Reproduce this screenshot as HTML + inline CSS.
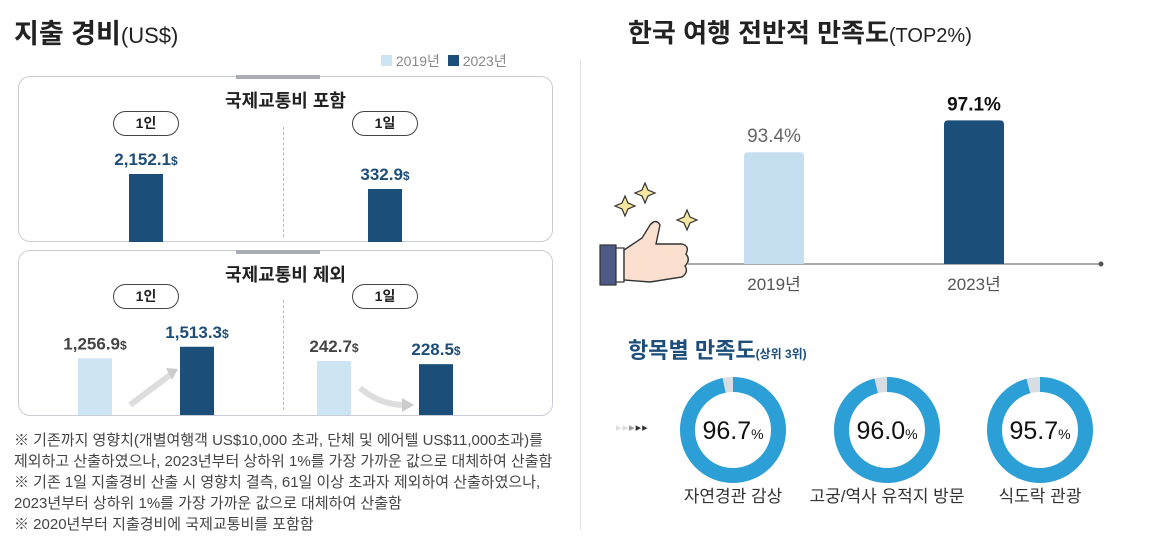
<!DOCTYPE html>
<html><head><meta charset="utf-8">
<style>
body{margin:0;width:1173px;height:547px;background:#fff;position:relative;overflow:hidden;font-family:"Liberation Sans","Noto Sans CJK KR",sans-serif;color:#222}
.abs{position:absolute}
.panel{position:absolute;left:18px;width:535px;height:166px;border:1.5px solid #c9ccd2;border-radius:12px;box-sizing:border-box}
.tab{position:absolute;left:218px;width:84px;height:4px;background:#a9adb6}
.ptitle{position:absolute;width:535px;left:18px;text-align:center;font-weight:bold;font-size:18px;color:#222}
.pill{position:absolute;width:66px;height:25px;border:1.5px solid #444;border-radius:13px;text-align:center;font-weight:bold;font-size:14px;box-sizing:border-box;line-height:22px}
.dash{position:absolute;left:283px;width:0;border-left:1px dashed #bbb}
.note{position:absolute;left:14px;font-size:15px;color:#444;line-height:21px;white-space:nowrap}
</style></head><body>
<div class="abs" style="left:14px;top:12px;font-size:27px;font-weight:bold">지출 경비<span style="font-weight:normal;font-size:22px">(US$)</span></div>
<div class="abs" style="left:381px;top:51px;font-size:14px;color:#888">
 <span><span style="display:inline-block;width:11px;height:11px;background:#cde4f2"></span> 2019년</span>
 <span style="margin-left:4px"><span style="display:inline-block;width:11px;height:11px;background:#1b4f7a"></span> 2023년</span>
</div>
<div class="panel" style="top:76px"></div>
<div class="tab" style="left:236px;top:75px"></div>
<div class="ptitle" style="top:87px">국제교통비 포함</div>
<div class="pill" style="left:113px;top:111px">1인</div>
<div class="pill" style="left:352px;top:111px">1일</div>
<div class="dash" style="top:127px;height:110px"></div>
<div class="panel" style="top:250px"></div>
<div class="tab" style="left:236px;top:250px"></div>
<div class="ptitle" style="top:261px">국제교통비 제외</div>
<div class="pill" style="left:113px;top:284px">1인</div>
<div class="pill" style="left:352px;top:284px">1일</div>
<div class="dash" style="top:300px;height:110px"></div>
<svg class="abs" style="left:0;top:0" width="580" height="420" id="leftsvg">
 <path d="M130 405 L170 375" stroke="#ddd" stroke-width="6" fill="none"/><polygon points="166,368 178,369 172,380" fill="#ccc"/>
 <path d="M360 388 Q380 405 405 405" stroke="#ddd" stroke-width="6" fill="none"/><polygon points="402,398 414,405 402,412" fill="#ccc"/>
</svg>
<div class="note" style="top:430px">※ 기존까지 영향치(개별여행객 US$10,000 초과, 단체 및 에어텔 US$11,000초과)를<br>제외하고 산출하였으나, 2023년부터 상하위 1%를 가장 가까운 값으로 대체하여 산출함<br>※ 기존 1일 지출경비 산출 시 영향치 결측, 61일 이상 초과자 제외하여 산출하였으나,<br>2023년부터 상하위 1%를 가장 가까운 값으로 대체하여 산출함<br>※ 2020년부터 지출경비에 국제교통비를 포함함</div>

<div class="abs" style="left:580px;top:60px;width:1px;height:470px;background:#e2e2e2"></div>
<div class="abs" style="left:628px;top:13px;font-size:26px;font-weight:bold">한국 여행 전반적 만족도<span style="font-weight:normal;font-size:20px">(TOP2%)</span></div>
<svg class="abs" style="left:590px;top:180px" width="110" height="115">
 <g fill="#f5e7a0" stroke="#333" stroke-width="1.2">
  <path d="M55 3 l3 7 7 3 -7 3 -3 7 -3 -7 -7 -3 7 -3z"/><path d="M35 16 l3 7 7 3 -7 3 -3 7 -3 -7 -7 -3 7 -3z"/><path d="M97 30 l3 7 7 3 -7 3 -3 7 -3 -7 -7 -3 7 -3z"/>
 </g>
 <rect x="10" y="65" width="16" height="40" fill="#4d5a86" stroke="#333" stroke-width="1.2"/>
 <rect x="26" y="68" width="8" height="34" fill="#fff" stroke="#333" stroke-width="1.2"/>
 <path d="M34 70 L52 58 L60 45 Q66 38 70 45 L66 64 L92 64 Q100 66 96 74 Q101 80 95 86 Q99 92 92 97 L60 102 L34 100Z" fill="#fbe0d0" stroke="#333" stroke-width="1.4"/>
</svg>
<svg class="abs" style="left:590px;top:80px" width="560" height="220" id="topsvg"></svg>
<div class="abs" style="left:628px;top:333px;font-size:22px;font-weight:bold;color:#1d4e79">항목별 만족도<span style="font-size:12px">(상위 3위)</span></div>
<div class="abs" style="left:616px;top:421px;font-size:11px;letter-spacing:1px"><span style="color:#ddd">▸▸</span><span style="color:#999">▸</span><span style="color:#333">▸▸</span></div>
<svg class="abs" style="left:590px;top:360px" width="583" height="180" id="donutsvg"></svg>
<script>
// left bar chart data
const groups = ["incl-person","incl-day","excl-person","excl-day"];
const vals2019 = [null, null, 1256.9, 242.7];
const vals2023 = [2152.1, 332.9, 1513.3, 228.5];
const labels2019 = ["", "", "1,256.9", "242.7"];
const labels2023 = ["2,152.1", "332.9", "1,513.3", "228.5"];
// right chart data
const years = ["2019년","2023년"];
const overall = [93.4, 97.1];
// donut data
const items = ["자연경관 감상","고궁/역사 유적지 방문","식도락 관광"];
const itemVals = [96.7, 96.0, 95.7];

const NS="http://www.w3.org/2000/svg";
function mk(p,t,a){const e=document.createElementNS(NS,t);for(const k in a)e.setAttribute(k,a[k]);p.appendChild(e);return e;}
const L=document.getElementById('leftsvg');
const scaleK=[68/2152.1,53/332.9,0.0451,0.2225];
const base=[242,242,415,415];
const cx19=[null,null,95,334], cx23=[146,385,197,436];
groups.forEach((g,i)=>{
 [[vals2019,labels2019,cx19,'#cde4f2','#444','2019'],[vals2023,labels2023,cx23,'#1b4f7a','#1d4e79','2023']].forEach(([v,lb,cx,col,tc,yr])=>{
  if(v[i]==null)return;
  const h=v[i]*scaleK[i];
  const r=mk(L,'rect',{x:cx[i]-17,y:base[i]-h,width:34,height:h,fill:col});
  
  
  const t=mk(L,'text',{x:cx[i],y:base[i]-h-9,'text-anchor':'middle','font-size':17,'font-weight':'bold',fill:tc});
  
  
  t.textContent=lb[i];
  const s=mk(t,'tspan',{'font-size':12});s.textContent='$';
 });
});
const T=document.getElementById('topsvg');
const yb=184, kk=8.6, vmin=80.4, bx=[184,384];
const ax=mk(T,'line',{x1:98,y1:yb,x2:511,y2:yb,stroke:'#555','stroke-width':1});

mk(T,'circle',{cx:511,cy:yb,r:2.5,fill:'#555'});
overall.forEach((v,i)=>{
 const h=(v-vmin)*kk;
 const r=mk(T,'path',{d:`M${bx[i]-30} ${yb} V${yb-h+4} Q${bx[i]-30} ${yb-h} ${bx[i]-26} ${yb-h} H${bx[i]+26} Q${bx[i]+30} ${yb-h} ${bx[i]+30} ${yb-h+4} V${yb}Z`,fill:i?'#1b4f7a':'#c5dff0'});
 
 
 const t=mk(T,'text',{x:bx[i],y:yb-h-10,'text-anchor':'middle','font-size':19,fill:i?'#111':'#666','font-weight':i?'bold':'normal'});
 
 
 t.textContent=v.toFixed(1)+'%';
 const y=mk(T,'text',{x:bx[i],y:yb+26,'text-anchor':'middle','font-size':17,fill:'#555'});
 
 
 y.textContent=years[i];
});
const D=document.getElementById('donutsvg');
const dcx=[143,297,450], dcy=70, R=45.5, W=15;
items.forEach((n,i)=>{
 const cx=dcx[i];
 const bg=mk(D,'circle',{cx,cy:dcy,r:R,fill:'none',stroke:'#d8dde3','stroke-width':W});
 
 const C=2*Math.PI*R, f=itemVals[i]/100;
 const a=mk(D,'circle',{cx,cy:dcy,r:R,fill:'none',stroke:'#2b9fd6','stroke-width':W,'stroke-dasharray':`${C*f} ${C}`,transform:`rotate(-90 ${cx} ${dcy})`});
 
 
 const t=mk(D,'text',{x:cx,y:dcy+9,'text-anchor':'middle','font-size':25,fill:'#111'});
 
 
 t.textContent=itemVals[i].toFixed(1);
 const s=mk(t,'tspan',{'font-size':14});s.textContent='%';
 const l=mk(D,'text',{x:cx,y:dcy+72,'text-anchor':'middle','font-size':17,fill:'#333'});
 
 
 l.textContent=n;
});
</script>
</body></html>
